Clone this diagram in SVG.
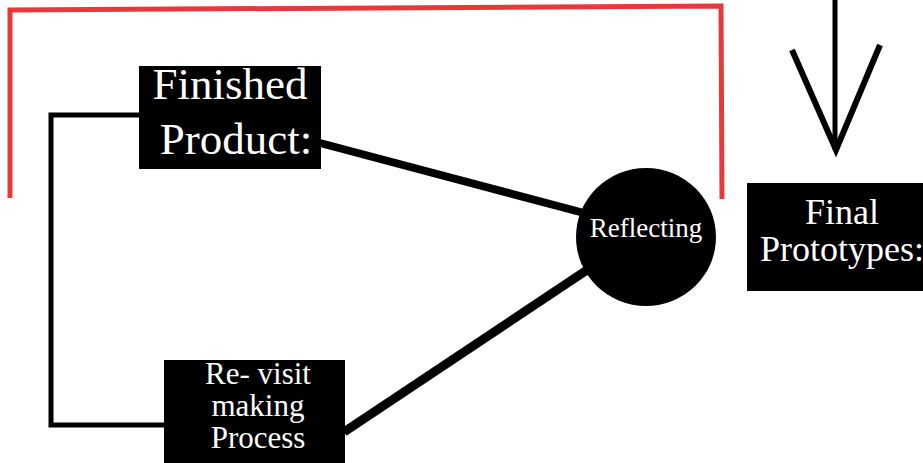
<svg xmlns="http://www.w3.org/2000/svg" width="923" height="463" viewBox="0 0 923 463">
<style>
.box{fill:#000}
.t{font-family:"Liberation Serif",serif;fill:#fff;text-anchor:middle}
.con{fill:none;stroke:#000;stroke-linecap:butt;stroke-linejoin:miter}
.red{fill:none;stroke:#e8383c;stroke-width:5}
</style>
<rect width="923" height="463" fill="#fff"/>
<g id="bracket">
<path class="red" d="M10,198 L10,10 L721,6 L722,199"/>
</g>
<g id="connectors">
<path class="con" stroke-width="5" d="M139,115 L51,115 L51,425 L164,425"/>
<path class="con" stroke-width="8" d="M320,143 L584,213"/>
<path class="con" stroke-width="9" d="M590,268 L344,432"/>
<path class="con" stroke-width="5" d="M835,0 L835,150"/>
<path class="con" stroke-width="6" d="M792,50 L836,150 L880,45"/>
</g>
<g id="finished">
<rect class="box" x="139" y="66" width="182" height="103"/>
<text class="t" x="230" y="99" font-size="45">Finished</text>
<text class="t" x="236" y="154" font-size="45">Product:</text>
</g>
<g id="reflecting">
<ellipse class="box" cx="646" cy="237" rx="70" ry="69"/>
<text class="t" x="646" y="237" font-size="27">Reflecting</text>
</g>
<g id="revisit">
<rect class="box" x="164" y="360" width="181" height="103"/>
<text class="t" x="258" y="384" font-size="31">Re- visit</text>
<text class="t" x="258" y="416" font-size="31">making</text>
<text class="t" x="258" y="448" font-size="31">Process</text>
</g>
<g id="final">
<rect class="box" x="747" y="183" width="190" height="108"/>
<text class="t" x="842" y="224" font-size="36">Final</text>
<text class="t" x="842" y="261" font-size="36">Prototypes:</text>
</g>
</svg>
